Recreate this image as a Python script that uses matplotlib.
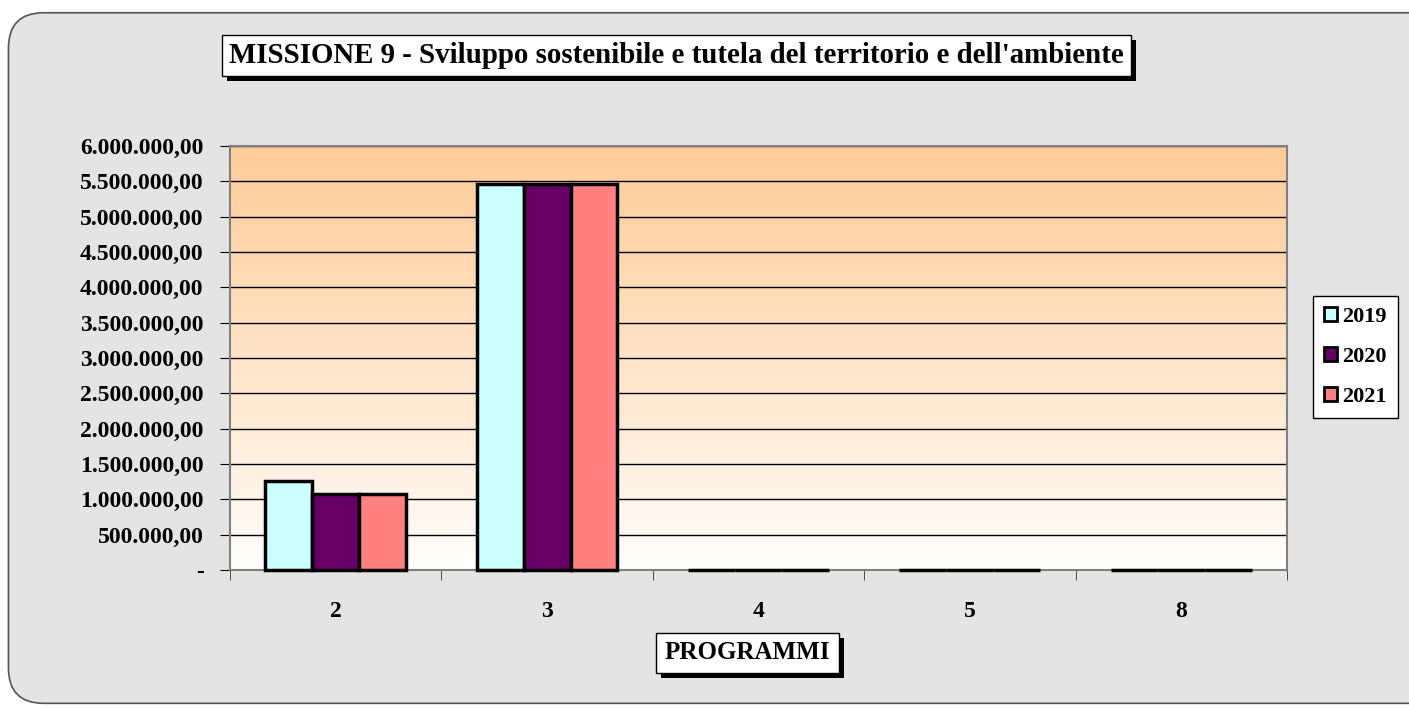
import matplotlib.pyplot as plt
import numpy as np
from matplotlib.patches import FancyBboxPatch, Patch, Rectangle
from matplotlib.ticker import FuncFormatter, MultipleLocator

programmi = ["2", "3", "4", "5", "8"]
anni = ["2019", "2020", "2021"]
valori_2019 = [1260000, 5460000, 0, 0, 0]
valori_2020 = [1075000, 5460000, 0, 0, 0]
valori_2021 = [1075000, 5460000, 0, 0, 0]
colori = ["#CCFFFF", "#660066", "#FF8080"]

titolo = "MISSIONE 9 - Sviluppo sostenibile e tutela del territorio e dell'ambiente"
etichetta_x = "PROGRAMMI"

FONT = "Liberation Serif"


def euro_fmt(v, pos):
    if abs(v) < 1:
        return "-"
    s = f"{v:,.2f}"
    return s.replace(",", "X").replace(".", ",").replace("X", ".")


def boxed_text(fig, x, y, text, size, ha, pad):
    return fig.text(x, y, text, fontsize=size, fontweight="bold", family=FONT,
                    ha=ha, va="center", color="black", zorder=5,
                    bbox=dict(boxstyle=f"square,pad={pad}", facecolor="white",
                              edgecolor="black", linewidth=1.0))


def add_shadow(fig, txt, off=5):
    # black drop shadow under the text box, placed from the rendered box
    renderer = fig.canvas.get_renderer()
    bb = txt.get_bbox_patch().get_window_extent(renderer)
    W, H = fig.bbox.width, fig.bbox.height
    rect = Rectangle(((bb.x0 + off) / W, (bb.y0 - off) / H), bb.width / W, bb.height / H,
                     transform=fig.transFigure, facecolor="black", edgecolor="none",
                     zorder=4)
    fig.patches.append(rect)


def build_figure():
    fig = plt.figure(figsize=(14.09, 7.09), dpi=100, facecolor="white")

    bg = FancyBboxPatch((0.006, 0.008), 1.05, 0.974,
                        boxstyle="round,pad=0,rounding_size=0.025",
                        transform=fig.transFigure, facecolor="#e4e4e4",
                        edgecolor="#555555", linewidth=1.2, mutation_aspect=2.0,
                        zorder=-10)
    fig.patches.append(bg)

    ax = fig.add_axes([0.1632, 0.196, 0.7502, 0.598])
    ax.set_facecolor("white")

    n = len(programmi)
    ax.set_xlim(-0.5, n - 0.5)
    ax.set_ylim(0, 6000000)

    # gradient orange -> white
    grad = np.linspace(0, 1, 256).reshape(-1, 1)
    top = np.array([1.0, 0.80, 0.60])
    bot = np.array([1.0, 1.0, 1.0])
    img = bot + (top - bot) * grad[..., None] ** 0.9
    ax.imshow(img, extent=[-0.5, n - 0.5, 0, 6000000], origin="lower",
              aspect="auto", zorder=0)

    for y in range(500000, 6000001, 500000):
        ax.axhline(y, color="black", linewidth=1.0, zorder=1)

    x = np.arange(n)
    w = 0.222
    for i, (vals, col) in enumerate(zip([valori_2019, valori_2020, valori_2021], colori)):
        bars = ax.bar(x + (i - 1) * w, vals, width=w, color=col, edgecolor="black",
                      linewidth=2.5, zorder=3, label=anni[i])
        for b in bars:
            b.set_clip_on(False)

    ax.yaxis.set_major_locator(MultipleLocator(500000))
    ax.yaxis.set_major_formatter(FuncFormatter(euro_fmt))
    ax.set_xticks(x)
    ax.set_xticklabels(programmi)
    ax.set_xticks(np.arange(-0.5, n, 1.0), minor=True)
    ax.tick_params(axis="x", which="major", length=0, pad=22)
    ax.tick_params(axis="x", which="minor", length=7, direction="out", color="#333333")
    ax.tick_params(axis="y", length=7, direction="out", pad=12)
    for lab in ax.get_xticklabels() + ax.get_yticklabels():
        lab.set_fontfamily(FONT)
        lab.set_fontweight("bold")
        lab.set_fontsize(17)

    for side in ["left", "bottom", "right", "top"]:
        ax.spines[side].set_color("#808080")
        ax.spines[side].set_linewidth(1.5)

    t1 = boxed_text(fig, 0.1625, 0.922, titolo, 20.8, "left", 0.25)
    t2 = boxed_text(fig, 0.5304, 0.079, etichetta_x, 18, "center", 0.35)

    handles = [Patch(facecolor=c, edgecolor="black", linewidth=2) for c in colori]
    leg = fig.legend(handles, anni, loc="center left", bbox_to_anchor=(0.924, 0.497),
                     prop={"family": FONT, "weight": "bold", "size": 16},
                     frameon=True, fancybox=False, handlelength=0.6, handleheight=0.6,
                     handletextpad=0.2, labelspacing=0.9, borderpad=0.5,
                     framealpha=1.0)
    leg.get_frame().set_edgecolor("black")
    leg.get_frame().set_linewidth(1.0)

    fig.canvas.draw()
    add_shadow(fig, t1)
    add_shadow(fig, t2)

    return fig


def main():
    fig = build_figure()
    fig.savefig("out.png", dpi=100, facecolor="white")


if __name__ == "__main__":
    main()
